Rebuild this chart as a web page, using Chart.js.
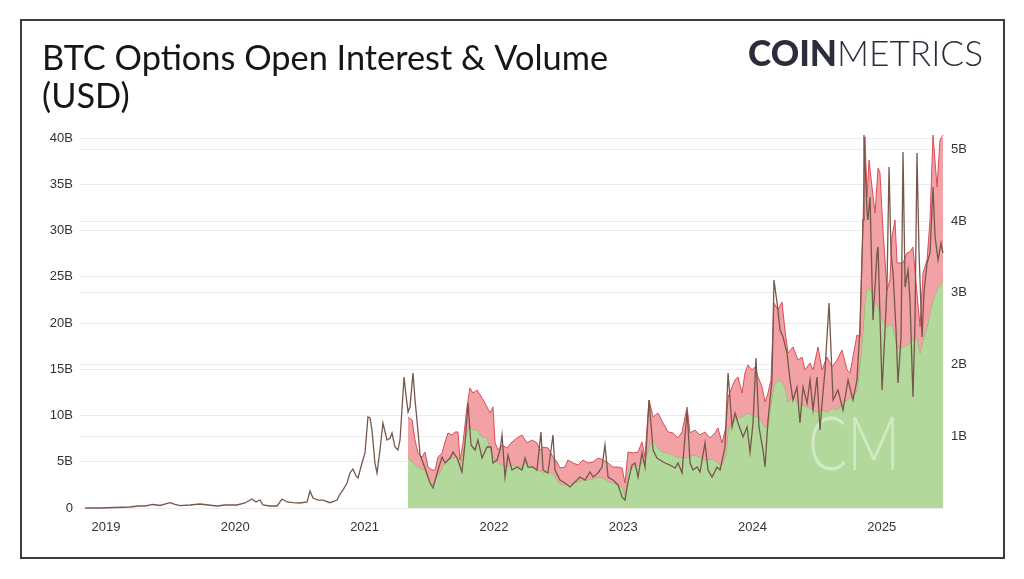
<!DOCTYPE html>
<html>
<head>
<meta charset="utf-8">
<script src="https://cdn.jsdelivr.net/npm/chart.js@4.4.1/dist/chart.umd.min.js"></script>
<style>
  html, body { margin: 0; padding: 0; background: #ffffff; }
  #wrap { position: relative; width: 1024px; height: 579px; }
  canvas { display: block; }
</style>
</head>
<body>
<div id="wrap"><canvas id="c" width="1024" height="579"></canvas></div>
<script>
// ---------------- DATA ----------------
const titleLines = ['BTC Options Open Interest & Volume', '(USD)'];
const logoBold = 'COIN';
const logoLight = 'METRICS';
const yearTicks = [2019, 2020, 2021, 2022, 2023, 2024, 2025];
const leftTicks = [0, 5, 10, 15, 20, 25, 30, 35, 40];      // billions USD
const rightTicks = [1, 2, 3, 4, 5];                          // billions USD

// Volume line (right axis, billions USD) — dates as decimal years
const volDates = [
  2018.838, 2018.954,
  2019.070, 2019.186, 2019.247, 2019.302, 2019.364, 2019.418, 2019.495, 2019.534, 2019.572, 2019.650, 2019.727, 2019.789, 2019.859, 2019.920,
  2020.013, 2020.075, 2020.129, 2020.160, 2020.191, 2020.214, 2020.268, 2020.323, 2020.361, 2020.400, 2020.446, 2020.500, 2020.555, 2020.578, 2020.601, 2020.640, 2020.678, 2020.732, 2020.787, 2020.810, 2020.833, 2020.864, 2020.887, 2020.910, 2020.934, 2020.949, 2020.980,
  2021.003, 2021.026, 2021.042, 2021.057, 2021.080, 2021.096, 2021.119, 2021.142, 2021.173, 2021.197, 2021.212, 2021.235, 2021.258, 2021.274, 2021.305, 2021.320, 2021.336, 2021.351, 2021.374, 2021.390, 2021.405, 2021.429, 2021.467, 2021.506, 2021.529, 2021.568, 2021.599, 2021.622, 2021.661, 2021.684, 2021.715, 2021.753, 2021.777, 2021.800, 2021.823, 2021.854, 2021.877, 2021.908, 2021.947, 2021.978, 2021.993,
  2022.024, 2022.047, 2022.063, 2022.086, 2022.109, 2022.140, 2022.179, 2022.217, 2022.241, 2022.264, 2022.302, 2022.333, 2022.364, 2022.380, 2022.418, 2022.457, 2022.473, 2022.511, 2022.550, 2022.589, 2022.627, 2022.666, 2022.705, 2022.743, 2022.767, 2022.805, 2022.836, 2022.859, 2022.883, 2022.921, 2022.960, 2022.991,
  2023.014, 2023.037, 2023.068, 2023.091, 2023.115, 2023.145, 2023.169, 2023.200, 2023.231, 2023.261, 2023.285, 2023.323, 2023.362, 2023.401, 2023.424, 2023.455, 2023.494, 2023.517, 2023.540, 2023.571, 2023.594, 2023.633, 2023.656, 2023.687, 2023.726, 2023.749, 2023.787, 2023.811, 2023.842, 2023.865, 2023.888, 2023.927, 2023.958, 2023.981,
  2024.004, 2024.027, 2024.050, 2024.081, 2024.097, 2024.120, 2024.151, 2024.166, 2024.190, 2024.213, 2024.236, 2024.267, 2024.290, 2024.313, 2024.344, 2024.367, 2024.391, 2024.422, 2024.445, 2024.468, 2024.499, 2024.522, 2024.538, 2024.561, 2024.592, 2024.623, 2024.661, 2024.700, 2024.739, 2024.777, 2024.808, 2024.831, 2024.855, 2024.862, 2024.886, 2024.893, 2024.909, 2024.924, 2024.932, 2024.963, 2024.971,
  2025.002, 2025.025, 2025.040, 2025.056, 2025.071, 2025.087, 2025.110, 2025.125, 2025.149, 2025.164, 2025.180, 2025.203, 2025.218, 2025.241, 2025.257, 2025.272, 2025.288, 2025.311, 2025.326, 2025.350, 2025.373, 2025.396, 2025.412, 2025.435, 2025.458, 2025.473
];
const volume = [
  0, 0,
  0.007, 0.014, 0.028, 0.028, 0.049, 0.035, 0.074, 0.049, 0.032, 0.042, 0.056, 0.042, 0.028, 0.042,
  0.042, 0.070, 0.125, 0.084, 0.111, 0.042, 0.028, 0.028, 0.125, 0.084, 0.074, 0.070, 0.084, 0.237, 0.139, 0.111, 0.111, 0.074, 0.111, 0.195, 0.251, 0.348, 0.488, 0.544, 0.446, 0.418, 0.627,
  0.767, 1.268, 1.254, 1.087, 0.627, 0.488, 0.808, 1.185, 0.948, 0.976, 1.045, 0.850, 0.808, 0.948, 1.826, 1.575, 1.338, 1.408, 1.882, 1.505, 1.226, 0.739, 0.557, 0.348, 0.279, 0.530, 0.711, 0.627, 0.697, 0.780, 0.697, 0.502, 0.906, 1.463, 0.878, 0.808, 0.948, 0.697, 0.850, 0.850, 0.627,
  0.669, 0.808, 1.017, 0.432, 0.739, 0.530, 0.571, 0.530, 0.697, 0.571, 0.571, 0.530, 1.059, 0.530, 0.488, 1.017, 0.530, 0.390, 0.348, 0.293, 0.362, 0.432, 0.390, 0.502, 0.432, 0.488, 0.571, 0.878, 0.432, 0.390, 0.321, 0.153,
  0.111, 0.362, 0.599, 0.627, 0.432, 0.767, 0.571, 1.505, 0.808, 0.697, 0.669, 0.627, 0.599, 0.557, 0.627, 0.488, 1.366, 0.627, 0.530, 0.571, 0.502, 0.906, 0.530, 0.432, 0.571, 0.530, 0.850, 1.882, 1.129, 1.324, 1.185, 0.990, 1.129, 0.780,
  1.185, 2.091, 1.129, 0.808, 0.571, 1.226, 1.784, 3.178, 2.857, 2.481, 2.383, 2.160, 1.784, 1.505, 1.686, 1.185, 1.686, 1.463, 1.784, 1.366, 1.826, 1.087, 1.463, 1.923, 2.857, 1.505, 1.645, 1.366, 1.784, 1.505, 1.784, 2.523, 4.014, 5.199, 4.111, 4.014, 4.334, 3.178, 2.620, 3.554, 3.638,
  1.645, 2.481, 3.080, 4.753, 3.554, 3.275, 2.481, 1.742, 2.383, 4.962, 3.080, 3.317, 2.899, 1.547, 2.620, 4.948, 3.554, 2.383, 2.997, 3.415, 3.554, 4.474, 3.777, 3.456, 3.693, 3.554
];

// Open interest (left axis, billions USD): green layer and red total on top
const oiDates = [
  2021.336, 2021.367, 2021.390, 2021.413, 2021.444, 2021.467, 2021.490, 2021.521, 2021.545, 2021.568, 2021.599, 2021.622, 2021.645, 2021.676, 2021.699, 2021.722, 2021.738, 2021.761, 2021.792, 2021.815, 2021.838, 2021.869, 2021.908, 2021.947, 2021.970, 2021.993,
  2022.009, 2022.032, 2022.063, 2022.101, 2022.140, 2022.179, 2022.217, 2022.256, 2022.295, 2022.333, 2022.357, 2022.380, 2022.418, 2022.457, 2022.488, 2022.511, 2022.550, 2022.573, 2022.612, 2022.651, 2022.689, 2022.728, 2022.767, 2022.805, 2022.844, 2022.883, 2022.921, 2022.960, 2022.991,
  2023.014, 2023.037, 2023.076, 2023.115, 2023.145, 2023.169, 2023.200, 2023.231, 2023.269, 2023.308, 2023.347, 2023.385, 2023.424, 2023.455, 2023.494, 2023.517, 2023.555, 2023.594, 2023.633, 2023.671, 2023.710, 2023.733, 2023.764, 2023.795, 2023.811, 2023.842, 2023.865, 2023.888, 2023.919, 2023.942, 2023.965, 2023.996,
  2024.019, 2024.043, 2024.074, 2024.097, 2024.120, 2024.143, 2024.166, 2024.197, 2024.228, 2024.251, 2024.275, 2024.313, 2024.352, 2024.383, 2024.406, 2024.445, 2024.468, 2024.507, 2024.538, 2024.576, 2024.615, 2024.654, 2024.692, 2024.731, 2024.754, 2024.777, 2024.808, 2024.831, 2024.855, 2024.870, 2024.886, 2024.901, 2024.924, 2024.948, 2024.971, 2024.986,
  2025.009, 2025.040, 2025.063, 2025.079, 2025.102, 2025.118, 2025.141, 2025.164, 2025.195, 2025.218, 2025.241, 2025.272, 2025.296, 2025.319, 2025.350, 2025.373, 2025.396, 2025.427, 2025.450, 2025.473
];
const oiGreen = [
  5.41, 4.97, 4.76, 4.43, 4.22, 4.11, 3.35, 2.49, 3.03, 3.57, 4.32, 4.86, 5.19, 5.41, 5.51, 5.41, 4.65, 6.05, 8.43, 8.76, 8.43, 8.54, 7.68, 7.68, 6.49, 5.73,
  5.19, 4.86, 4.65, 4.43, 4.65, 4.54, 4.43, 4.97, 4.43, 4.11, 4.00, 3.89, 3.89, 3.78, 3.03, 2.59, 2.49, 2.59, 2.70, 2.81, 3.03, 3.03, 3.14, 3.35, 3.24, 2.92, 2.70, 2.49, 2.27,
  1.41, 4.11, 4.43, 4.65, 4.86, 5.19, 6.49, 7.35, 6.49, 6.05, 5.95, 5.73, 5.51, 5.41, 5.51, 5.62, 5.73, 5.51, 5.19, 5.30, 5.19, 4.86, 4.65, 5.73, 8.43, 9.30, 9.51, 9.73, 9.84, 10.05, 10.27, 10.05,
  9.95, 9.84, 9.30, 8.76, 8.76, 11.35, 13.30, 13.84, 13.62, 13.08, 11.46, 12.00, 11.35, 11.14, 11.03, 10.81, 10.59, 10.38, 10.59, 10.38, 10.81, 10.59, 11.24, 11.68, 11.89, 12.00, 12.76, 15.46, 19.24, 22.49, 23.78, 23.68, 23.35, 22.49, 21.73, 21.19,
  20.32, 19.57, 19.78, 20.00, 18.70, 17.41, 17.41, 17.41, 17.62, 17.84, 18.16, 18.49, 16.76, 18.16, 19.57, 21.08, 22.49, 23.57, 24.11, 24.43
];
const oiTotal = [
  9.84, 9.51, 7.35, 5.95, 5.51, 6.05, 4.43, 4.11, 4.11, 5.51, 5.95, 7.14, 8.11, 7.89, 8.22, 8.22, 5.19, 7.03, 10.92, 12.97, 12.43, 12.76, 11.89, 10.92, 10.27, 10.92,
  7.03, 6.27, 6.81, 6.49, 7.14, 7.57, 7.89, 7.03, 7.35, 7.03, 6.27, 6.59, 6.49, 5.51, 4.97, 4.32, 4.43, 5.19, 4.86, 4.65, 5.19, 4.86, 4.97, 5.41, 5.19, 4.86, 4.43, 4.43, 4.32,
  2.70, 6.05, 5.95, 6.05, 7.14, 5.51, 11.68, 9.84, 10.27, 9.19, 8.22, 8.11, 7.57, 8.22, 10.92, 8.11, 8.43, 7.89, 8.22, 7.57, 8.11, 8.65, 7.03, 8.76, 12.00, 13.08, 13.84, 14.16, 12.43, 14.59, 15.46, 14.92,
  15.24, 14.16, 13.08, 11.46, 12.43, 13.84, 22.16, 21.41, 22.27, 19.24, 16.76, 17.41, 16.00, 16.32, 14.92, 15.68, 14.92, 17.41, 14.92, 16.32, 15.24, 16.00, 17.08, 14.92, 14.59, 16.32, 18.70, 18.49, 31.14, 40.11, 33.62, 37.62, 34.70, 31.89, 36.76, 36.22,
  30.05, 23.57, 24.65, 29.30, 31.14, 26.49, 26.49, 26.49, 27.57, 27.68, 28.22, 23.24, 19.57, 25.41, 26.81, 31.14, 40.32, 34.70, 39.78, 40.32
];

// ---------------- CHART ----------------
const pts = (xs, ys) => xs.map((x, i) => ({ x: x, y: ys[i] }));
const LEFT_MAX = 40;
const RIGHT_MAX = 5.157;   // right axis top, aligned with 40B on the left

const decor = {
  id: 'decor',
  beforeDraw(chart) {
    const ctx = chart.ctx;
    ctx.save();
    ctx.fillStyle = '#ffffff';
    ctx.fillRect(0, 0, chart.width, chart.height);
    // frame
    ctx.strokeStyle = '#3c3c3c';
    ctx.lineWidth = 2;
    ctx.strokeRect(21, 20, 983, 538);
    // title
    ctx.fillStyle = '#161616';
    ctx.textBaseline = 'alphabetic';
    ctx.textAlign = 'left';
    ctx.font = '400 36px Lato';
    const w = ctx.measureText(titleLines[0]).width;
    const size = 36 * 566 / w;
    ctx.font = '400 ' + size.toFixed(2) + 'px Lato';
    ctx.fillText(titleLines[0], 42, 70);
    ctx.fillText(titleLines[1], 42, 108);
    // logo
    ctx.fillStyle = '#2b2d3d';
    ctx.font = '900 36px Lato';
    const wb = ctx.measureText(logoBold).width;
    ctx.font = '300 36px Lato';
    const wl = ctx.measureText(logoLight).width;
    const sx = 235 / (wb + wl);
    ctx.save();
    ctx.translate(748, 66);
    ctx.scale(sx, 1);
    ctx.font = '900 36px Lato';
    ctx.fillText(logoBold, 0, 0);
    ctx.font = '300 36px Lato';
    ctx.fillText(logoLight, wb, 0);
    ctx.restore();
    ctx.restore();
  },
  afterDatasetDraw(chart, args) {
    if (args.index !== 0) return;
    const ctx = chart.ctx;
    ctx.save();
    ctx.fillStyle = 'rgba(255,255,255,0.42)';
    ctx.textBaseline = 'alphabetic';
    ctx.font = '300 74px Lato';
    const w = ctx.measureText('CM').width;
    ctx.translate(808, 470);
    ctx.scale(92 / w, 1);
    ctx.fillText('CM', 0, 0);
    ctx.restore();
  }
};

const tickFont = { family: 'Liberation Sans, Arial, sans-serif', size: 13 };
const gridColor = '#ececec';

new Chart(document.getElementById('c'), {
  type: 'line',
  data: {
    datasets: [
      {
        label: 'OI (green)',
        data: pts(oiDates, oiGreen),
        yAxisID: 'y',
        borderColor: '#79b956',
        backgroundColor: '#b2d99b',
        borderWidth: 1,
        fill: 'origin',
        pointRadius: 0,
        tension: 0,
        order: 2
      },
      {
        label: 'OI (total)',
        data: pts(oiDates, oiTotal),
        yAxisID: 'y',
        borderColor: '#de4b58',
        backgroundColor: '#f2a1a5',
        borderWidth: 1,
        fill: '-1',
        pointRadius: 0,
        tension: 0,
        clip: false,
        order: 1
      },
      {
        label: 'Volume',
        data: pts(volDates, volume),
        yAxisID: 'y1',
        borderColor: '#76574b',
        borderWidth: 1.3,
        fill: false,
        pointRadius: 0,
        tension: 0,
        clip: false,
        order: 0
      }
    ]
  },
  options: {
    responsive: false,
    animation: false,
    events: [],
    layout: { padding: { left: 20, right: 20, top: 138, bottom: 41 } },
    plugins: { legend: { display: false }, tooltip: { enabled: false }, title: { display: false } },
    scales: {
      x: {
        type: 'linear',
        min: 2018.799,
        max: 2025.481,
        afterBuildTicks: s => { s.ticks = yearTicks.map(v => ({ value: v })); },
        afterFit: s => { s.height = 30; },
        ticks: { callback: v => String(v), font: tickFont, color: '#333333', padding: 4, maxRotation: 0, autoSkip: false },
        grid: { display: false },
        border: { display: false }
      },
      y: {
        position: 'left',
        min: 0,
        max: LEFT_MAX,
        afterBuildTicks: s => { s.ticks = leftTicks.map(v => ({ value: v })); },
        afterFit: s => { s.width = 60; },
        ticks: { callback: v => v === 0 ? '0' : v + 'B', font: tickFont, color: '#333333', padding: 7 },
        grid: { color: gridColor, drawTicks: false, lineWidth: 1 },
        border: { display: false }
      },
      y1: {
        position: 'right',
        min: 0,
        max: RIGHT_MAX,
        afterBuildTicks: s => { s.ticks = rightTicks.map(v => ({ value: v })); },
        afterFit: s => { s.width = 60; },
        ticks: { callback: v => v + 'B', font: tickFont, color: '#333333', padding: 7 },
        grid: { color: gridColor, drawTicks: false, lineWidth: 1 },
        border: { display: false }
      }
    }
  },
  plugins: [decor]
});
</script>
</body>
</html>
